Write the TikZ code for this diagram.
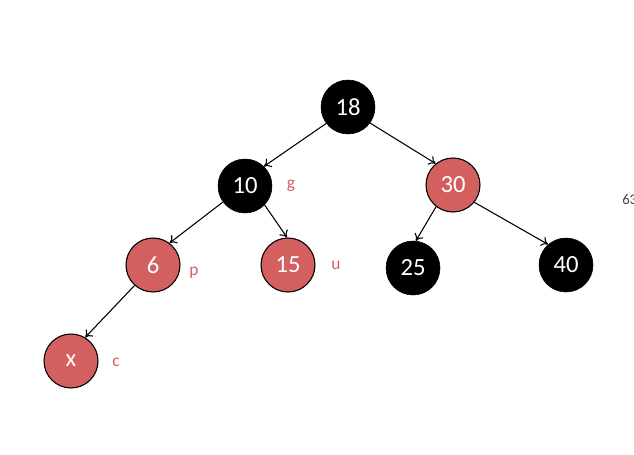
\documentclass[tikz,border=0pt]{standalone}
\usepackage{fontspec}
\setmainfont{Carlito}
\usetikzlibrary{arrows.meta}
\definecolor{rbred}{HTML}{D35F5F}
\tikzset{
  rbnode/.style={circle, minimum size=40.5pt, inner sep=0pt, font=\fontsize{18.5}{21}\selectfont, text=white},
  blacknode/.style={rbnode, fill=black, draw=black},
  rednode/.style={rbnode, fill=rbred, draw=black, line width=0.8pt},
  edge/.style={-{To[length=5pt,width=7.5pt]}, line width=0.8pt},
  tag/.style={text=rbred, font=\fontsize{13}{15}\selectfont}
}
\begin{document}
\begin{tikzpicture}[x=0.75pt,y=-0.75pt]
\useasboundingbox (0,0) rectangle (634,454);
\clip (0,0) rectangle (634,454);
\fill[white] (0,0) rectangle (634,454);
\node[blacknode] (n18) at (348,107) {18};
\node[blacknode] (n10) at (245,186) {10};
\node[rednode] (n30) at (453,185) {30};
\node[rednode] (n6) at (153,265) {6};
\node[rednode] (n15) at (288,265) {15};
\node[blacknode] (n25) at (413,268) {25};
\node[blacknode] (n40) at (566,265) {40};
\node[rednode] (nx) at (71,361) {x};
\node[tag] (tg) at (291,186) {g};
\node[tag] (tp) at (194,273) {p};
\node[tag] (tu) at (336,265) {u};
\node[tag] (tc) at (116,362) {c};
\node[anchor=west, text=black!75, font=\fontsize{11}{13}\selectfont, inner sep=0pt] (t63) at (622,200) {63};
\draw[edge] (n18.217) -- (n10.46);
\draw[edge] (n18.324) -- (n30.129);
\draw[edge] (n10.216) -- (n6.53);
\draw[edge] (n10.316) -- (n15.92);
\draw[edge] (n30.232) -- (n25.84);
\draw[edge] (n30.321) -- (n40.131);
\draw[edge] (n6.228) -- (nx.59);
\end{tikzpicture}
\end{document}
